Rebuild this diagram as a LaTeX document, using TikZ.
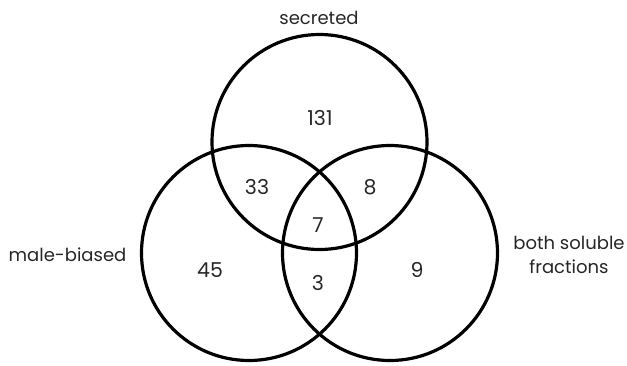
\documentclass[tikz,border=0pt]{standalone}
\usepackage{fontspec}
\setmainfont{Poppins}
\usepackage{tikz}
\usetikzlibrary{positioning}

\begin{document}
\begin{tikzpicture}[x=1pt, y=-1pt,
	venn/.style={circle, draw=black, line width=3.2pt, minimum size=215pt, inner sep=0pt},
	lbl/.style={font=\fontsize{18}{23.7}\selectfont, text=black!85, inner sep=0pt, align=center},
	num/.style={font=\fontsize{20.5}{22}\selectfont, text=black!85, inner sep=0pt}]
	
	% Rahmen
	\useasboundingbox (0,0) rectangle (627,365);
	
	% Die drei Mengen
	\node[venn] (sec) at (319.5,142) {};
	\node[venn] (male) at (249,253) {};
	\node[venn] (both) at (390,253) {};
	
	% Beschriftungen
	\node[lbl] (secl) at (319,18) {secreted};
	\node[lbl] (malel) at (67.5,255) {male-biased};
	\node[lbl] (bothl) at (569,255) {both soluble\\fractions};
	
	% Anzahlen
	\node[num] (n131) at (320,118) {131};
	\node[num] (n33) at (257,187) {33};
	\node[num] (n8) at (370,187) {8};
	\node[num] (n7) at (318,225) {7};
	\node[num] (n45) at (210,270) {45};
	\node[num] (n3) at (318,283) {3};
	\node[num] (n9) at (417,270) {9};
	
\end{tikzpicture}
\end{document}
